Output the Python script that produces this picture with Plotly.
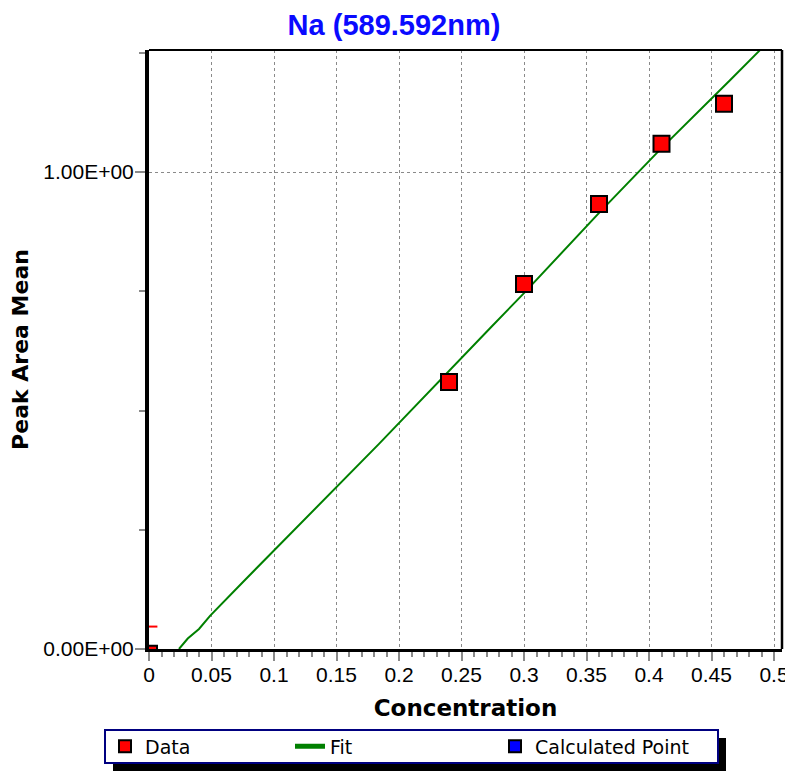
import plotly.graph_objects as go

# ---------------- data ----------------
conc = [0.240, 0.300, 0.360, 0.410, 0.460]
peak_area = [0.560, 0.765, 0.933, 1.059, 1.143]

blank_x = [0.0]
blank_y = [-0.010]

dash_x = [0.0]
dash_y = [0.047]

fit_x = [0.024, 0.031, 0.040, 0.049, 0.075, 0.100, 0.150, 0.184, 0.273, 0.300, 0.361, 0.410, 0.465, 0.489]
fit_y = [0.000, 0.022, 0.042, 0.070, 0.140, 0.207, 0.341, 0.430, 0.673, 0.746, 0.917, 1.050, 1.193, 1.256]

calc_x = [None]
calc_y = [None]

y_tickvals = [0, 1]
y_ticktext = ["0.00E+00", "1.00E+00"]

# ---------------- layout geometry ----------------
# the page body has an 8px margin, so the figure is made 8px smaller
# and all page positions below are shifted by OFF
OFF = 8
W, H = 793 - OFF, 772 - OFF
L = 149 - OFF
T = 50 - OFF
R = W - (782 - OFF)
B = H - (649 - OFF)
PW, PH = W - L - R, H - T - B


def px(x):  # page x -> paper fraction
    return (x - OFF - L) / PW


def py(y):  # page y -> paper fraction
    return (H - B - (y - OFF)) / PH


fig = go.Figure()

fig.add_trace(go.Scatter(
    x=fit_x, y=fit_y, mode="lines", name="Fit",
    line=dict(color="#008000", width=2), legend="legend2"))

fig.add_trace(go.Scatter(
    x=dash_x, y=dash_y, mode="markers", showlegend=False, hoverinfo="skip",
    marker=dict(symbol="line-ew", size=12, line=dict(color="red", width=2))))

fig.add_trace(go.Scatter(
    x=blank_x, y=blank_y, mode="markers", showlegend=False,
    marker=dict(symbol="square", size=16, color="red", line=dict(color="black", width=2))))

fig.add_trace(go.Scatter(
    x=conc, y=peak_area, mode="markers", name="Data",
    marker=dict(symbol="square", size=16, color="red", line=dict(color="black", width=2)),
    legend="legend"))

fig.add_trace(go.Scatter(
    x=calc_x, y=calc_y, mode="markers", name="Calculated Point",
    marker=dict(symbol="square", size=12, color="blue", line=dict(color="black", width=2)),
    legend="legend3"))

xtickfont = dict(family="Liberation Sans, Arial", size=21, color="black")
ytickfont = dict(family="Liberation Sans, Arial", size=21, color="black")
legfont = dict(family="DejaVu Sans", size=19, color="black")
leg_common = dict(bgcolor="rgba(0,0,0,0)", borderwidth=0, font=legfont,
                  yanchor="middle", y=py(746.5), xanchor="left", itemsizing="constant")

fig.update_layout(
    width=W, height=H,
    margin=dict(l=L, r=R, t=T, b=B, autoexpand=False),
    paper_bgcolor="white", plot_bgcolor="white",
    title=dict(text="Na (589.592nm)", x=(394 - OFF) / W, xref="container", xanchor="center",
               y=1 - (25 - OFF) / H, yref="container", yanchor="middle",
               font=dict(family="Liberation Sans, Arial", size=29, color="#0a0aff", weight="bold")),
    xaxis=dict(
        range=[0, 0.5064], tick0=0, dtick=0.05,
        showgrid=True, gridcolor="#8a8a8a", griddash="dot", gridwidth=1.3,
        ticks="outside", ticklen=9, tickwidth=2, tickcolor="#8a8a8a",
        showline=True, linecolor="black", linewidth=3, zeroline=False,
        minor=dict(dtick=0.01, ticks="outside", ticklen=5, tickwidth=1.5,
                   tickcolor="#8a8a8a", showgrid=False),
        tickfont=xtickfont, automargin=False, ticklabelstandoff=-4,
        title=dict(text="Concentration", standoff=15,
                   font=dict(family="DejaVu Sans", size=23, color="black", weight="bold")),
    ),
    yaxis=dict(
        range=[0, 1.2558], tickvals=y_tickvals, ticktext=y_ticktext,
        showgrid=True, gridcolor="#8a8a8a", griddash="dot", gridwidth=1.3,
        ticks="outside", ticklen=10, tickwidth=2, tickcolor="#8a8a8a",
        showline=True, linecolor="black", linewidth=4, zeroline=False,
        minor=dict(dtick=0.25, tick0=0, ticks="outside", ticklen=6, tickwidth=1.5,
                   tickcolor="#8a8a8a", showgrid=False),
        tickfont=ytickfont, automargin=False, ticklabelstandoff=-3,
        title=dict(text="Peak Area Mean", standoff=15,
                   font=dict(family="DejaVu Sans", size=22, color="black", weight="bold")),
    ),
    legend=dict(x=px(105), **leg_common),
    legend2=dict(x=px(290), **leg_common),
    legend3=dict(x=px(495), **leg_common),
    shapes=[
        # top and right frame
        dict(type="line", xref="paper", yref="paper", x0=0, x1=1, y0=1, y1=1,
             line=dict(color="black", width=2)),
        dict(type="line", xref="paper", yref="paper", x0=1, x1=1, y0=0, y1=1,
             line=dict(color="black", width=2.5)),
        # legend shadow and box
        dict(type="rect", xref="paper", yref="paper", x0=px(113), x1=px(726),
             y0=py(771), y1=py(738), fillcolor="black", line=dict(width=0)),
        dict(type="rect", xref="paper", yref="paper", x0=px(105), x1=px(718),
             y0=py(763), y1=py(730), fillcolor="white", line=dict(color="#000080", width=2)),
    ],
)

fig.write_html("out.html")
